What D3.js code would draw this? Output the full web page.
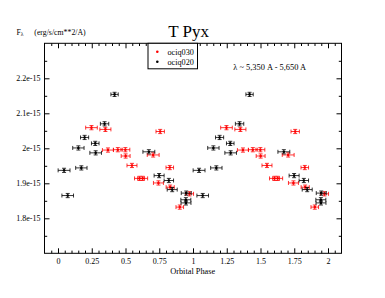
<!DOCTYPE html>
<html><head><meta charset="utf-8">
<script src="https://cdn.jsdelivr.net/npm/d3@7"></script>
<style>body{margin:0;background:#fff}svg{display:block}text{font-family:"Liberation Serif","Times New Roman",serif;fill:#000}</style>
</head><body><svg id="c" width="385" height="298"></svg>
<script>
// ---- data ----
const xTicks = [0, 0.25, 0.5, 0.75, 1, 1.25, 1.5, 1.75, 2];
const xTickLabels = ["0", "0.25", "0.5", "0.75", "1", "1.25", "1.5", "1.75", "2"];
const yTicks = [1.8e-15, 1.9e-15, 2.0e-15, 2.1e-15, 2.2e-15];
const yTickLabels = ["1.8e-15", "1.9e-15", "2e-15", "2.1e-15", "2.2e-15"];
const seriesNames = ["ociq030", "ociq020"];
const cycles = [0, 1]; // data folded and repeated over two orbital cycles

// ociq030 (red)
const redPhase    = [0.248, 0.351, 0.757, 0.370, 0.443, 0.499, 0.501, 0.705, 0.548, 0.828, 0.604, 0.627, 0.744, 0.831, 0.974, 0.902];
const redFlux     = [2.059, 2.054, 2.048, 1.995, 1.996, 1.996, 1.978, 1.981, 1.951, 1.945, 1.914, 1.914, 1.901, 1.889, 1.870, 1.832].map(v => v * 1e-15);
const redPhaseErr = [0.043, 0.041, 0.031, 0.041, 0.033, 0.033, 0.033, 0.044, 0.037, 0.028, 0.037, 0.037, 0.037, 0.030, 0.030, 0.028];
const redFluxErr  = [0.006, 0.006, 0.006, 0.006, 0.006, 0.006, 0.006, 0.006, 0.006, 0.006, 0.006, 0.006, 0.006, 0.006, 0.006, 0.006].map(v => v * 1e-15);

// ociq020 (black)
const blackPhase    = [0.419, 0.345, 0.197, 0.276, 0.151, 0.279, 0.045, 0.173, 0.072, 0.673, 0.749, 0.821, 0.846, 0.950, 0.947, 0.948];
const blackFlux     = [2.154, 2.070, 2.031, 2.014, 2.001, 1.987, 1.937, 1.944, 1.865, 1.990, 1.922, 1.908, 1.882, 1.872, 1.853, 1.844].map(v => v * 1e-15);
const blackPhaseErr = [0.027, 0.031, 0.030, 0.028, 0.042, 0.043, 0.044, 0.042, 0.043, 0.044, 0.037, 0.035, 0.037, 0.037, 0.037, 0.037];
const blackFluxErr  = [0.006, 0.006, 0.006, 0.006, 0.006, 0.006, 0.006, 0.006, 0.006, 0.006, 0.006, 0.006, 0.006, 0.006, 0.006, 0.006].map(v => v * 1e-15);

// ---- chart ----
const svg = d3.select("#c");
const x = d3.scaleLinear().domain([-0.1, 2.1]).range([44.5, 341.5]);
const y = d3.scaleLinear().domain([1.7e-15, 2.3e-15]).range([253.3, 43.3]);
const [x0, x1] = x.range();
const [y1, y0] = y.range();

const xMinor = d3.range(-0.05, 2.1, 0.05).filter(v => Math.abs(v / 0.25 - Math.round(v / 0.25)) > 1e-6);
const yMinor = d3.range(1.75e-15, 2.3e-15, 0.1e-15);

const gAxes = svg.append("g");
// bottom axis
gAxes.append("g").attr("transform", `translate(0,${y1})`)
  .call(d3.axisBottom(x).tickValues(xTicks).tickSize(-5).tickFormat((d, i) => xTickLabels[i]).tickPadding(5))
  .call(g => g.selectAll("text").attr("font-size", 8).attr("font-family", "Liberation Serif"));
gAxes.append("g").attr("transform", `translate(0,${y1})`)
  .call(d3.axisBottom(x).tickValues(xMinor).tickSize(-2.7).tickFormat(""));
// top axis
gAxes.append("g").attr("transform", `translate(0,${y0})`)
  .call(d3.axisTop(x).tickValues(xTicks).tickSize(-5).tickFormat(""));
gAxes.append("g").attr("transform", `translate(0,${y0})`)
  .call(d3.axisTop(x).tickValues(xMinor).tickSize(-2.7).tickFormat(""));
// left axis
gAxes.append("g").attr("transform", `translate(${x0},0)`)
  .call(d3.axisLeft(y).tickValues(yTicks).tickSize(-5).tickFormat((d, i) => yTickLabels[i]).tickPadding(4))
  .call(g => g.selectAll("text").attr("font-size", 8).attr("font-family", "Liberation Serif"));
gAxes.append("g").attr("transform", `translate(${x0},0)`)
  .call(d3.axisLeft(y).tickValues(yMinor).tickSize(-2.7).tickFormat(""));
// right axis
gAxes.append("g").attr("transform", `translate(${x1},0)`)
  .call(d3.axisRight(y).tickValues(yTicks).tickSize(-5).tickFormat(""));
gAxes.append("g").attr("transform", `translate(${x1},0)`)
  .call(d3.axisRight(y).tickValues(yMinor).tickSize(-2.7).tickFormat(""));
gAxes.selectAll(".domain").remove();
gAxes.selectAll("line").attr("stroke", "#000").attr("stroke-width", 1);

svg.append("rect").attr("x", x0).attr("y", y0).attr("width", x1 - x0).attr("height", y1 - y0)
  .attr("fill", "none").attr("stroke", "#000").attr("stroke-width", 1);

// data points
function series(ph, fl, ePh, eFl) {
  const out = [];
  cycles.forEach(c => ph.forEach((p, i) => out.push({p: p + c, f: fl[i], ep: ePh[i], ef: eFl[i]})));
  return out;
}
const sets = [
  {name: seriesNames[0], color: "#ff0000", data: series(redPhase, redFlux, redPhaseErr, redFluxErr)},
  {name: seriesNames[1], color: "#000000", data: series(blackPhase, blackFlux, blackPhaseErr, blackFluxErr)}
];
const cap = 2;
sets.forEach(s => {
  const g = svg.append("g").attr("stroke", s.color).attr("stroke-width", 0.8).attr("fill", "none");
  const pt = g.selectAll("g").data(s.data).join("g");
  pt.append("line").attr("x1", d => x(d.p - d.ep)).attr("x2", d => x(d.p + d.ep)).attr("y1", d => y(d.f)).attr("y2", d => y(d.f));
  pt.append("line").attr("x1", d => x(d.p - d.ep)).attr("x2", d => x(d.p - d.ep)).attr("y1", d => y(d.f) - cap).attr("y2", d => y(d.f) + cap);
  pt.append("line").attr("x1", d => x(d.p + d.ep)).attr("x2", d => x(d.p + d.ep)).attr("y1", d => y(d.f) - cap).attr("y2", d => y(d.f) + cap);
  pt.append("line").attr("x1", d => x(d.p)).attr("x2", d => x(d.p)).attr("y1", d => y(d.f - d.ef)).attr("y2", d => y(d.f + d.ef));
  pt.append("line").attr("x1", d => x(d.p) - cap).attr("x2", d => x(d.p) + cap).attr("y1", d => y(d.f - d.ef)).attr("y2", d => y(d.f - d.ef));
  pt.append("line").attr("x1", d => x(d.p) - cap).attr("x2", d => x(d.p) + cap).attr("y1", d => y(d.f + d.ef)).attr("y2", d => y(d.f + d.ef));
  pt.append("circle").attr("cx", d => x(d.p)).attr("cy", d => y(d.f)).attr("r", 1.3).attr("fill", s.color).attr("stroke", "none");
});

// legend
const lg = svg.append("g");
lg.append("rect").attr("x", 148).attr("y", y0).attr("width", 49.5).attr("height", 25.5)
  .attr("fill", "#fff").attr("stroke", "#000").attr("stroke-width", 1);
sets.forEach((s, i) => {
  lg.append("circle").attr("cx", 157.3).attr("cy", 51.7 + i * 10).attr("r", 1.3).attr("fill", s.color);
  lg.append("text").attr("x", 167.5).attr("y", 54.6 + i * 10).attr("font-size", 8.2).text(s.name);
});

// texts
svg.append("text").attr("x", 188.7).attr("y", 36.5).attr("text-anchor", "middle").attr("font-size", 17).text("T Pyx");
const yl = svg.append("text").attr("x", 16.5).attr("y", 34.5).attr("font-size", 7.8);
yl.append("tspan").text("F");
yl.append("tspan").attr("font-size", 5.5).attr("dy", 1.8).text("λ");
yl.append("tspan").attr("x", 34.3).attr("dy", -1.8).text("(erg/s/cm**2/A)");
svg.append("text").attr("x", 233.3).attr("y", 69.5).attr("font-size", 8.4).text("λ ~ 5,350 A - 5,650 A");
svg.append("text").attr("x", 192.7).attr("y", 274.3).attr("text-anchor", "middle").attr("font-size", 8.3).text("Orbital Phase");
</script>
</body></html>
